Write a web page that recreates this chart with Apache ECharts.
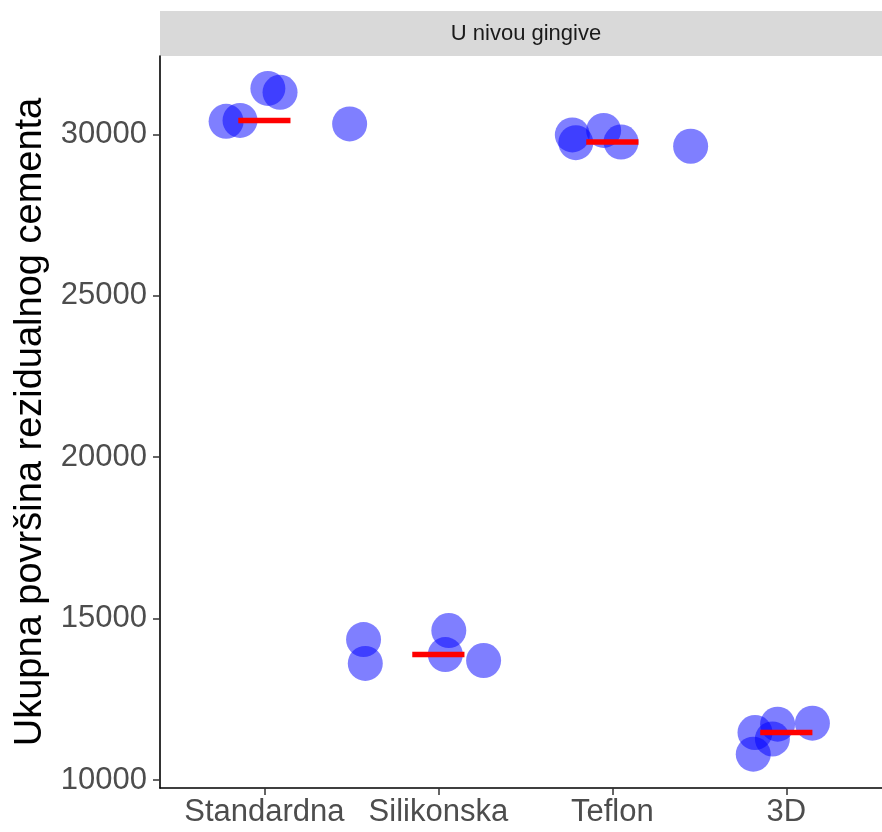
<!DOCTYPE html>
<html>
<head>
<meta charset="utf-8">
<script src="https://cdn.jsdelivr.net/npm/echarts@6/dist/echarts.min.js"></script>
<style>
  html, body { margin: 0; padding: 0; background: #ffffff; }
  #chart { width: 882px; height: 832px; }
</style>
</head>
<body>
<div id="chart"></div>
<script>
// Groups along the x axis
const categories = ['Standardna', 'Silikonska', 'Teflon', '3D'];

// Measured residual cement area per sample, one array per group
const standardna = [30400, 30430, 31420, 31300, 30320];
const silikonska = [14350, 13610, 14630, 13885, 13700];
const teflon = [29980, 29740, 30120, 29760, 29630];
const d3 = [11470, 11730, 11270, 10800, 11760];

// Horizontal jitter of each sample (in category units)
const jitterStandardna = [-0.22, -0.14, 0.02, 0.09, 0.49];
const jitterSilikonska = [-0.43, -0.42, 0.06, 0.04, 0.26];
const jitterTeflon = [-0.23, -0.21, -0.05, 0.05, 0.45];
const jitterD3 = [-0.18, -0.05, -0.08, -0.19, 0.15];

const yTicks = [10000, 15000, 20000, 25000, 30000];
const panelTitle = 'U nivou gingive';
const yTitle = 'Ukupna površina rezidualnog cementa';

const groups = [standardna, silikonska, teflon, d3];
const jitters = [jitterStandardna, jitterSilikonska, jitterTeflon, jitterD3];

function median(arr) {
  const s = arr.slice().sort((a, b) => a - b);
  const m = Math.floor(s.length / 2);
  return s.length % 2 ? s[m] : (s[m - 1] + s[m]) / 2;
}

const points = [];
groups.forEach((vals, gi) => {
  vals.forEach((v, k) => points.push([gi + 1 + jitters[gi][k], v]));
});

const medianSeries = groups.map((vals, gi) => {
  const m = median(vals);
  return {
    type: 'line',
    data: [[gi + 1 - 0.15, m], [gi + 1 + 0.15, m]],
    symbol: 'none',
    silent: true,
    z: 5,
    lineStyle: { color: '#ff0000', width: 5.5, cap: 'butt' }
  };
});

const chart = echarts.init(document.getElementById('chart'), null, { renderer: 'canvas' });

const FONT = '"Liberation Sans", Arial, sans-serif';

chart.setOption({
  backgroundColor: '#ffffff',
  animation: false,
  grid: { left: 160, right: 0, top: 56, bottom: 44 },
  graphic: [
    {
      type: 'rect',
      shape: { x: 160, y: 11, width: 722, height: 45 },
      style: { fill: '#d9d9d9' },
      z: 0
    },
    {
      type: 'text',
      x: 526,
      y: 34,
      style: {
        text: panelTitle,
        font: '22px ' + FONT,
        fill: '#1a1a1a',
        textAlign: 'center',
        textVerticalAlign: 'middle'
      },
      z: 1
    }
  ],
  xAxis: {
    type: 'value',
    min: 0.4,
    max: 4.55,
    splitLine: { show: false },
    axisLine: { show: true, onZero: false, lineStyle: { color: '#000000', width: 1.6 } },
    axisTick: { show: true, length: 7, customValues: [1, 2, 3, 4], lineStyle: { color: '#333333', width: 1.5 } },
    axisLabel: {
      customValues: [1, 2, 3, 4],
      formatter: v => categories[Math.round(v) - 1] || '',
      color: '#4d4d4d',
      fontSize: 31,
      fontFamily: FONT,
      margin: 9
    }
  },
  yAxis: {
    type: 'value',
    min: 9752,
    max: 32424,
    name: yTitle,
    nameLocation: 'middle',
    nameGap: 110,
    nameTextStyle: { color: '#000000', fontSize: 38, fontFamily: FONT },
    splitLine: { show: false },
    axisLine: { show: true, onZero: false, lineStyle: { color: '#000000', width: 1.6 } },
    axisTick: { show: true, length: 7, customValues: yTicks, lineStyle: { color: '#333333', width: 1.5 } },
    axisLabel: {
      customValues: yTicks,
      formatter: v => String(v),
      color: '#4d4d4d',
      fontSize: 31,
      fontFamily: FONT,
      margin: 13
    }
  },
  series: [
    {
      type: 'scatter',
      data: points,
      symbol: 'circle',
      symbolSize: 35,
      z: 2,
      itemStyle: { color: '#0000ff', opacity: 0.5 },
      emphasis: { disabled: true }
    },
    ...medianSeries
  ]
});
</script>
</body>
</html>
